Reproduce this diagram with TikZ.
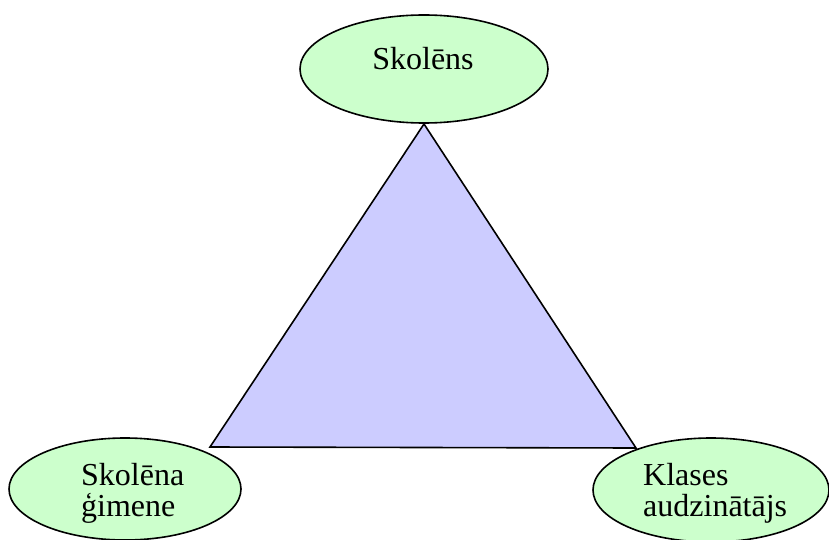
\documentclass[tikz,border=0pt]{standalone}
\usepackage{fontspec}
\setmainfont{Liberation Serif}
\usetikzlibrary{shapes.geometric}
\definecolor{ellfill}{HTML}{CCFFCC}
\definecolor{trifill}{HTML}{CCCCFF}
\tikzset{
  role/.style={ellipse, draw=black, line width=1.6pt, fill=ellfill, inner sep=0pt},
  lbl/.style={inner sep=0pt, align=left, font=\fontsize{32}{31}\selectfont},
  tri/.style={draw=black, line width=1.6pt, fill=trifill, line join=miter}
}
\begin{document}
\begin{tikzpicture}[x=1pt,y=1pt]
\useasboundingbox (0,0) rectangle (829,539);
% triangle
\coordinate (apex) at (424,415);
\coordinate (bl) at (210,92);
\coordinate (br) at (636,91);
\draw[tri] (apex) -- (bl) -- (br) -- cycle;
% ellipses
\node[role, minimum width=248pt, minimum height=108pt] (top) at (424,470) {};
\node[role, minimum width=232pt, minimum height=102pt] (left) at (125,50) {};
\node[role, minimum width=236pt, minimum height=104pt] (right) at (711,49) {};
% labels
\node[lbl, anchor=base] (ttop) at (423,469) {Skolēns};
\node[lbl, anchor=north west] (tleft) at (81,76) {Skolēna\\ģimene};
\node[lbl, anchor=north west] (tright) at (643,76) {Klases\\audzinātājs};
\end{tikzpicture}
\end{document}
